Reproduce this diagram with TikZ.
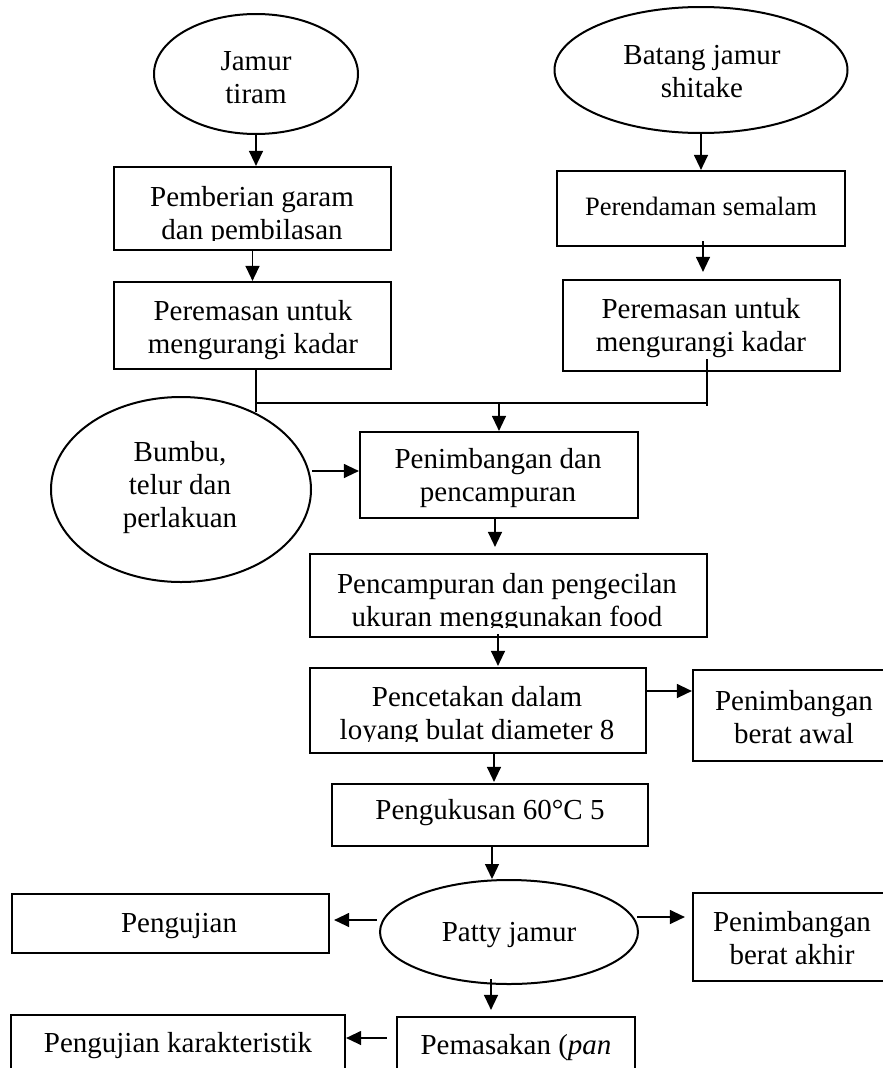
\documentclass[tikz,border=0pt]{standalone}
\usepackage{fontspec}
\setmainfont{Liberation Serif}
\usetikzlibrary{shapes.geometric,arrows.meta,calc}
\newcommand\mainfs{\fontsize{29}{33}\selectfont}
\newcommand\smallfs{\fontsize{26.5}{30}\selectfont}
\tikzset{
  box/.style={draw, line width=2.2pt, rectangle, inner sep=0pt},
  oval/.style={draw, line width=2pt, ellipse, inner sep=0pt},
  txt/.style={align=center, inner sep=0pt, font=\mainfs},
  arr/.style={line width=1.3pt, -{Triangle[length=15pt,width=14pt]}},
  ln/.style={line width=1.3pt},
}
\begin{document}
\begin{tikzpicture}[x=1pt,y=-1pt]
\clip (0,0) rectangle (883,1068);
% top left column
\node[oval, minimum width=204pt, minimum height=120pt] (jt) at (256,74) {};
\node[txt] (jtt) at (256,80) {\strut Jamur\\\strut tiram};
\node[box, minimum width=277pt, minimum height=83pt] (pg) at (252.5,208.5) {};
\begin{scope}
\clip (115,168) rectangle (390,240.5);
\node[txt] (pgt) at (252,216) {\strut Pemberian garam\\\strut dan pembilasan};
\end{scope}
\node[box, minimum width=277pt, minimum height=87pt] (prl) at (252.5,325.5) {};
\node[txt] (prlt) at (253,330) {\strut Peremasan untuk\\\strut mengurangi kadar};
% top right column
\node[oval, minimum width=293pt, minimum height=126pt] (bt) at (701,70) {};
\node[txt] (btt) at (702,74) {\strut Batang jamur\\\strut shitake};
\node[box, minimum width=288pt, minimum height=75pt] (ps) at (701,208.5) {};
\node[txt, font=\smallfs] (pst) at (701,209) {\strut Perendaman semalam};
\node[box, minimum width=277pt, minimum height=91pt] (prr) at (701.5,325.5) {};
\node[txt] (prrt) at (701,328) {\strut Peremasan untuk\\\strut mengurangi kadar};
% middle
\node[oval, minimum width=260pt, minimum height=185pt] (bb) at (181,489.5) {};
\node[txt] (bbt) at (180,488) {\strut Bumbu,\\\strut telur dan\\\strut perlakuan};
\node[box, minimum width=278pt, minimum height=86pt] (pdp) at (499,475) {};
\node[txt] (pdpt) at (498,478.5) {\strut Penimbangan dan\\\strut pencampuran};
\node[box, minimum width=397pt, minimum height=83pt] (pp) at (508.5,595.5) {};
\begin{scope}
\clip (311,555) rectangle (706,627.5);
\node[txt] (ppt) at (507,603) {\strut Pencampuran dan pengecilan\\\strut ukuran menggunakan food};
\end{scope}
\node[box, minimum width=336pt, minimum height=85pt] (pc) at (478,710.5) {};
\begin{scope}
\clip (311,669) rectangle (645,741);
\node[txt] (pct) at (477,716) {\strut Pencetakan dalam\\\strut loyang bulat diameter 8};
\end{scope}
\node[box, minimum width=202pt, minimum height=91pt] (pba) at (794,715.5) {};
\node[txt] (pbat) at (794,720) {\strut Penimbangan\\\strut berat awal};
\node[box, minimum width=316pt, minimum height=62pt] (pk) at (490,815) {};
\node[txt] (pkt) at (490,813) {\strut Pengukusan 60°C 5};
% bottom
\node[oval, minimum width=258pt, minimum height=104pt] (patty) at (509,932) {};
\node[txt] (pattyt) at (509,935) {\strut Patty jamur};
\node[box, minimum width=317pt, minimum height=59pt] (pu) at (170.5,923.5) {};
\node[txt] (put) at (179,926) {\strut Pengujian};
\node[box, minimum width=200pt, minimum height=88pt] (pbk) at (793,937) {};
\node[txt] (pbkt) at (792,941) {\strut Penimbangan\\\strut berat akhir};
\node[box, minimum width=238pt, minimum height=70pt] (pm) at (516,1052) {};
\node[txt] (pmt) at (516,1048) {\strut Pemasakan (\textit{pan}};
\node[box, minimum width=334pt, minimum height=70pt] (pkr) at (178,1050) {};
\node[txt] (pkrt) at (178,1046) {\strut Pengujian karakteristik};
% connectors
\draw[arr] (jt.south) -- (jt.south |- pg.north);
\draw[arr] (pg.south) -- (prl.north);
\draw[arr] (bt.south) -- (bt.south |- ps.north);
\draw[arr] ($(ps.south)+(2,-6)$) -- ($(prr.north)+(1.5,-7)$);
\coordinate (jl) at (256,403);
\coordinate (jr) at (707,403);
\coordinate (jm) at (499,403);
\coordinate (jb) at (256,412);
\draw[ln] ($(prl.south)+(3.5,0)$) -- (jb);
\draw[ln] (jl) -- (jr);
\draw[ln] ($(prr.south)+(5.5,-13)$) -- ($(jr)+(0,3)$);
\draw[arr] (jm) -- (jm |- pdp.north);
\draw[arr] ($(pdp.west -| bb.east)+(0,-4)$) -- ($(pdp.west)+(0,-4)$);
\draw[arr] ($(pdp.south)+(-4,-1)$) -- ($(pdp.south |- pp.north)+(-4,-6)$);
\draw[arr] ($(pp.south)+(-10.5,-4)$) -- ($(pp.south |- pc.north)+(-10.5,-1)$);
\draw[arr] ($(pc.east)+(0,-19.5)$) -- ($(pc.east -| pba.west)+(0,-19.5)$);
\draw[arr] ($(pc.south)+(16,0)$) -- ($(pk.north)+(4,-1)$);
\draw[arr] ($(pk.south)+(2,0)$) -- ($(patty.north)+(-17,0)$);
\draw[arr] ($(patty.west)+(-2,-12)$) -- ($(pu.east)+(4,-3.5)$);
\draw[arr] ($(patty.east)+(-2,-15)$) -- ($(pbk.west)+(-7,-20)$);
\draw[arr] ($(patty.south)+(-18,-6)$) -- ($(pm.north)+(-25,-6)$);
\draw[arr] ($(pm.west)+(-9,-14)$) -- ($(pkr.east)+(0,-12)$);
\end{tikzpicture}
\end{document}
